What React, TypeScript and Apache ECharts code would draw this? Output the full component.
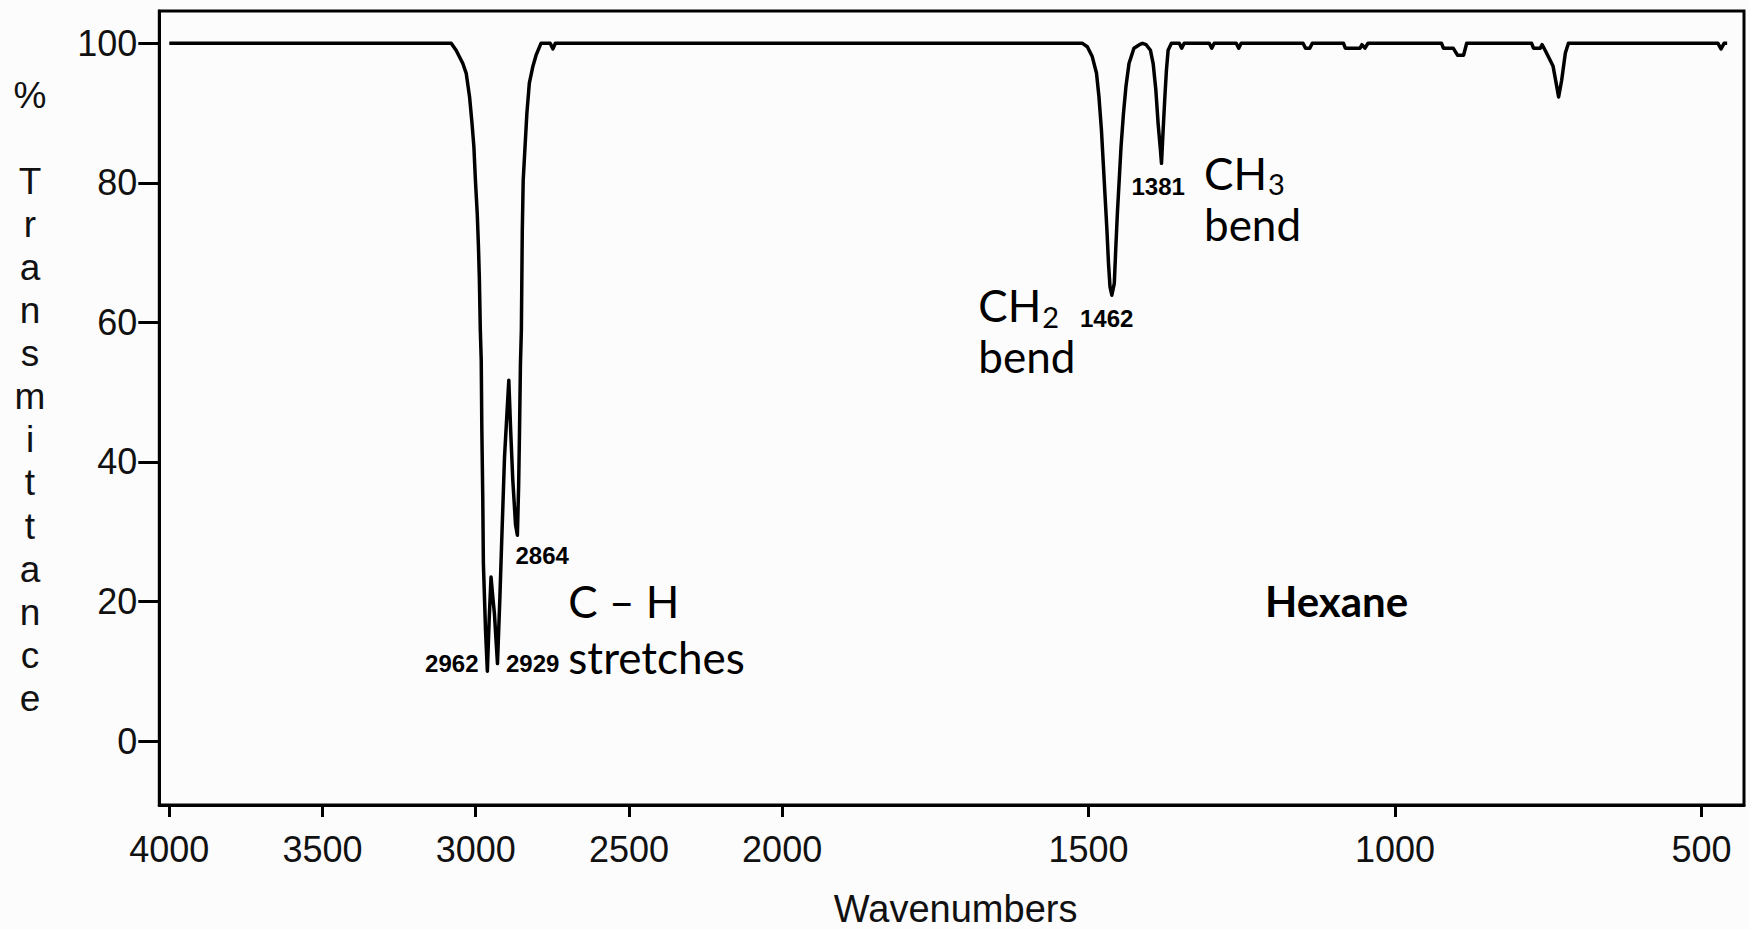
import { useEffect, useRef } from "react";
import * as echarts from "echarts";

// Hexane IR spectrum: wavenumber (cm⁻¹) and % transmittance
const wavenumbers = [
  4000, 3100, 3080, 3064, 3042, 3031, 3020, 3012, 3006, 3001, 2995, 2991, 2988,
  2985, 2982, 2980, 2977, 2975, 2968, 2962, 2956, 2950, 2944, 2939, 2929, 2921,
  2914, 2906, 2898, 2892, 2886, 2879, 2870, 2864, 2860, 2857, 2854, 2851, 2850,
  2848, 2845, 2839, 2833, 2825, 2814, 2803, 2787, 2757, 2748, 2740, 2000, 1510,
  1502, 1494, 1487, 1483, 1479, 1476, 1473, 1470, 1467.5, 1465, 1462, 1458,
  1455.5, 1453, 1450, 1447, 1443, 1439, 1434, 1426, 1417, 1412, 1406, 1399,
  1394.6, 1390.2, 1386.5, 1382.7, 1381, 1378.3, 1375.5, 1372.9, 1370.2, 1364.8,
  1352, 1348, 1344, 1303, 1299, 1295, 1259, 1255, 1251, 1150, 1146, 1139, 1135,
  1084, 1081, 1057, 1054, 1049, 1044, 924, 921, 905, 898, 888, 883, 777, 774,
  763, 760, 755, 747, 742, 736, 733, 728, 722, 717, 473, 468, 463, 458,
];
const transmittance = [
  100, 100, 100, 99.0, 97.1, 95.7, 92.3, 88.5, 85.2, 80.4, 75.6, 70.8, 66.1,
  58.9, 54.6, 44.6, 35.0, 25.5, 15.9, 10.0, 17.5, 23.5, 20.5, 18.3, 11.1, 20.7,
  30.2, 40.7, 47.0, 51.7, 44.6, 37.4, 31.0, 29.5, 36.4, 44.6, 54.1, 58.9, 63.7,
  73.2, 80.4, 85.2, 90.0, 94.3, 96.6, 98.3, 100, 100, 99.2, 100, 100, 100,
  99.5, 98.1, 95.7, 92.3, 87.6, 82.8, 78.0, 73.2, 68.5, 65.1, 63.9, 65.6,
  70.8, 75.6, 80.4, 85.2, 90.0, 93.8, 97.1, 99.3, 99.8, 100, 99.8, 99.0,
  97.1, 93.3, 88.5, 84.7, 82.8, 87.6, 92.3, 96.2, 99.0, 100,
  100, 99.3, 100, 100, 99.3, 100, 100, 99.3, 100, 100, 99.3, 99.3, 100,
  100, 99.3, 99.3, 99.8, 99.3, 100, 100, 99.3, 99.3, 98.3, 98.3, 100, 100, 99.3,
  99.3, 99.8, 99.0, 97.6, 96.7, 93.8, 92.3, 94.7, 98.6, 100, 100, 99.2, 100, 100,
];

const xTickValues = [4000, 3500, 3000, 2500, 2000, 1500, 1000, 500];
const yTickValues = [0, 20, 40, 60, 80, 100];
const peakLabels = [2962, 2929, 2864, 1462, 1381];

// Axis extent, in wavenumbers / % transmittance
const X_LEFT_WN = 4032.6;
const X_RIGHT_WN = 430.5;
const Y_MIN = -9.17;
const Y_MAX = 104.63;

// The instrument's abscissa is linear from 4000 to 2000 cm⁻¹ and
// expanded two-fold below 2000 cm⁻¹.
const BREAK = 2000;
const toAxis = (wn: number) =>
  wn >= BREAK ? 4000 - wn : 4000 - BREAK + 2 * (BREAK - wn);
const fromAxis = (u: number) =>
  u <= 4000 - BREAK ? 4000 - u : BREAK - (u - (4000 - BREAK)) / 2;

const SANS = "'Liberation Sans', Arial, sans-serif";
const BODY = "Lato, 'Open Sans', sans-serif";

const peakLabelPlacement: Record<number, { x: number; y: number; align: string }> = {
  2962: { x: 478.5, y: 663, align: "right" },
  2929: { x: 506, y: 663, align: "left" },
  2864: { x: 515.5, y: 555, align: "left" },
  1462: { x: 1080, y: 318.5, align: "left" },
  1381: { x: 1131.5, y: 186, align: "left" },
};

function buildOption(): echarts.EChartsOption {
  const seriesData = wavenumbers.map((wn, i) => [toAxis(wn), transmittance[i]]);

  const bigText = (text: string, x: number, y: number, size = 44, weight = "normal") => ({
    type: "text",
    x,
    y,
    silent: true,
    style: {
      text,
      fontFamily: BODY,
      fontSize: size,
      fontWeight: weight,
      fill: "#000",
      textAlign: "left",
      textVerticalAlign: "middle",
    },
  });

  // Group label such as "CH₂ / bend", with a lowered subscript digit
  const groupLabel = (digit: string, x: number, top: number) => ({
    type: "text",
    x,
    y: top,
    silent: true,
    style: {
      text: `{ch|CH}{sub|${digit}}\n{ch|bend}`,
      fontFamily: BODY,
      fill: "#000",
      textAlign: "left",
      textVerticalAlign: "top",
      rich: {
        ch: { fontFamily: BODY, fontSize: 44, lineHeight: 51, fill: "#000" },
        sub: {
          fontFamily: BODY,
          fontSize: 29,
          lineHeight: 26,
          verticalAlign: "bottom",
          fill: "#000",
          padding: [0, 0, 0, 1],
        },
      },
    },
  });

  const peakTexts = peakLabels.map((wn) => {
    const p = peakLabelPlacement[wn];
    return {
      type: "text",
      x: p.x,
      y: p.y,
      silent: true,
      style: {
        text: String(wn),
        fontFamily: SANS,
        fontSize: 24,
        fontWeight: "bold",
        fill: "#000",
        textAlign: p.align,
        textVerticalAlign: "middle",
      },
    };
  });

  return {
    animation: false,
    backgroundColor: "#fcfcfc",
    grid: {
      left: 159.3,
      right: 6,
      top: 11,
      bottom: 124,
      outerBoundsMode: "none",
      containLabel: false,
      show: true,
      borderColor: "#000",
      borderWidth: 3,
      backgroundColor: "transparent",
    },
    xAxis: {
      type: "value",
      min: toAxis(X_LEFT_WN),
      max: toAxis(X_RIGHT_WN),
      splitLine: { show: false },
      axisLine: { show: true, onZero: false, lineStyle: { color: "#000", width: 3 } },
      axisTick: {
        show: true,
        inside: false,
        length: 12,
        lineStyle: { color: "#000", width: 3 },
        customValues: xTickValues.map(toAxis),
      },
      axisLabel: {
        show: true,
        margin: 26,
        fontFamily: SANS,
        fontSize: 36,
        color: "#111",
        customValues: xTickValues.map(toAxis),
        formatter: (v: number) => String(Math.round(fromAxis(v))),
      },
      name: "Wavenumbers",
      nameLocation: "middle",
      nameGap: 85,
      nameTextStyle: {
        fontFamily: SANS,
        fontSize: 38,
        lineHeight: 38,
        color: "#111",
        padding: [0, 0, 0, 8],
      },
    },
    yAxis: {
      type: "value",
      min: Y_MIN,
      max: Y_MAX,
      splitLine: { show: false },
      axisLine: { show: true, onZero: false, lineStyle: { color: "#000", width: 3 } },
      axisTick: {
        show: true,
        inside: false,
        length: 21,
        lineStyle: { color: "#000", width: 3 },
        customValues: yTickValues,
      },
      axisLabel: {
        show: true,
        margin: 22,
        fontFamily: SANS,
        fontSize: 36,
        color: "#111",
        customValues: yTickValues,
      },
    },
    series: [
      {
        type: "line",
        data: seriesData,
        showSymbol: false,
        symbol: "none",
        clip: true,
        lineStyle: { color: "#000", width: 3.5, join: "round" },
        emphasis: { disabled: true },
      },
    ],
    graphic: [
      {
        type: "text",
        x: 30,
        y: 73.5,
        silent: true,
        style: {
          text: ["%", "", ..."Transmittance".split("")].join("\n"),
          fontFamily: SANS,
          fontSize: 37,
          lineHeight: 43.1,
          fill: "#111",
          textAlign: "center",
          textVerticalAlign: "top",
        },
      },
      ...peakTexts,
      bigText("C – H", 568.3, 601),
      bigText("stretches", 568.3, 657),
      groupLabel("2", 978.3, 279.5),
      groupLabel("3", 1204, 147),
      bigText("Hexane", 1265, 601, 42, "bold"),
    ],
  } as echarts.EChartsOption;
}

export default function App() {
  const ref = useRef<HTMLDivElement>(null);

  useEffect(() => {
    if (!ref.current) return;
    const chart = echarts.init(ref.current, undefined, { renderer: "svg" });
    chart.setOption(buildOption());
    return () => chart.dispose();
  }, []);

  return (
    <div
      ref={ref}
      style={{ position: "fixed", left: 0, top: 0, width: 1750, height: 929 }}
    />
  );
}
